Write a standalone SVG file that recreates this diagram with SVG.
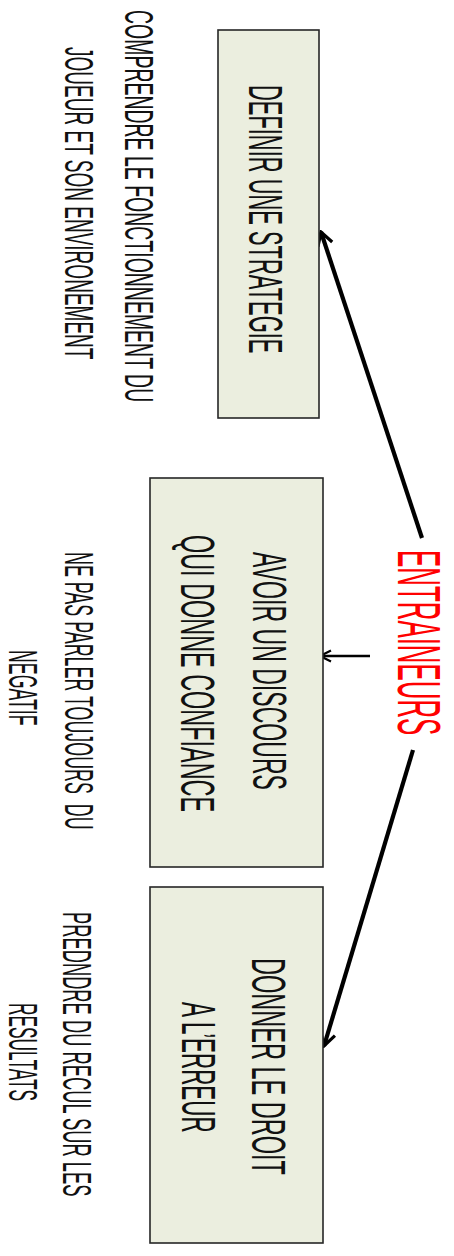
<svg xmlns="http://www.w3.org/2000/svg" width="454" height="1256" viewBox="0 0 454 1256">
  <style>
    .box { fill: #EBEEDF; stroke: #262626; stroke-width: 1.6; }
    .lbl { font-family: "Liberation Sans", Arial, sans-serif; fill: #111; }
    .big { font-size: 49px; }
    .side { font-size: 41px; }
    .title { font-size: 61px; fill: #FF0000; }
    .link { fill: none; stroke: #000; stroke-linecap: butt; }
  </style>
  <defs>
    <marker id="head" viewBox="-16 -10 18 20" refX="0" refY="0" markerUnits="userSpaceOnUse" markerWidth="18" markerHeight="20" orient="auto">
      <path d="M-13,-7.5 L0,0 L-13,7.5" fill="none" stroke="#000" stroke-width="3.2" stroke-linejoin="miter"/>
    </marker>
    <marker id="headThin" viewBox="-14 -8 16 16" refX="0" refY="0" markerUnits="userSpaceOnUse" markerWidth="16" markerHeight="16" orient="auto">
      <path d="M-11,-5.5 L0,0 L-11,5.5" fill="none" stroke="#000" stroke-width="2.2"/>
    </marker>
  </defs>

  <!-- connectors from the central label -->
  <g id="connectors">
    <line class="link" x1="422" y1="538" x2="321" y2="232" stroke-width="4.2" marker-end="url(#head)"/>
    <line class="link" x1="370" y1="656" x2="320" y2="656" stroke-width="2.4" marker-end="url(#headThin)"/>
    <line class="link" x1="413" y1="750" x2="324" y2="1046" stroke-width="4.2" marker-end="url(#head)"/>
  </g>

  <!-- all labels run top-to-bottom; scale(sx,1) narrows the glyphs along the reading direction -->
  <g id="node-strategie">
    <rect class="box" x="218" y="30" width="101" height="388"/>
    <text class="lbl big" transform="translate(249,85) rotate(90) scale(0.447,1)">DEFINIR UNE STRATEGIE</text>
  </g>

  <g id="node-discours">
    <rect class="box" x="150" y="478" width="173" height="389"/>
    <text class="lbl big" transform="translate(253,552) rotate(90) scale(0.471,1)">AVOIR UN DISCOURS</text>
    <text class="lbl big" transform="translate(181,535) rotate(90) scale(0.478,1)">QUI DONNE CONFIANCE</text>
  </g>

  <g id="node-erreur">
    <rect class="box" x="150" y="887" width="173" height="356"/>
    <text class="lbl big" transform="translate(252,958) rotate(90) scale(0.480,1)">DONNER LE DROIT</text>
    <text class="lbl big" transform="translate(182,1002) rotate(90) scale(0.457,1)">A L’ERREUR</text>
  </g>

  <g id="node-entraineurs">
    <text class="lbl title" transform="translate(398,550) rotate(90) scale(0.424,1)">ENTRAINEURS</text>
  </g>

  <g id="note-fonctionnement">
    <text class="lbl side" transform="translate(125,10) rotate(90) scale(0.475,1)">COMPRENDRE LE FONCTIONNEMENT DU</text>
    <text class="lbl side" transform="translate(65,47) rotate(90) scale(0.464,1)">JOUEUR ET SON ENVIRONEMENT</text>
  </g>

  <g id="note-negatif">
    <text class="lbl side" xml:space="preserve" transform="translate(65,552) rotate(90) scale(0.436,1)">NE PAS PARLER TOUJOURS  DU</text>
    <text class="lbl side" transform="translate(9,650) rotate(90) scale(0.433,1)">NEGATIF</text>
  </g>

  <g id="note-recul">
    <text class="lbl side" transform="translate(63,912) rotate(90) scale(0.447,1)">PREDNDRE DU RECUL SUR LES</text>
    <text class="lbl side" transform="translate(9,1003) rotate(90) scale(0.422,1)">RESULTATS</text>
  </g>
</svg>
